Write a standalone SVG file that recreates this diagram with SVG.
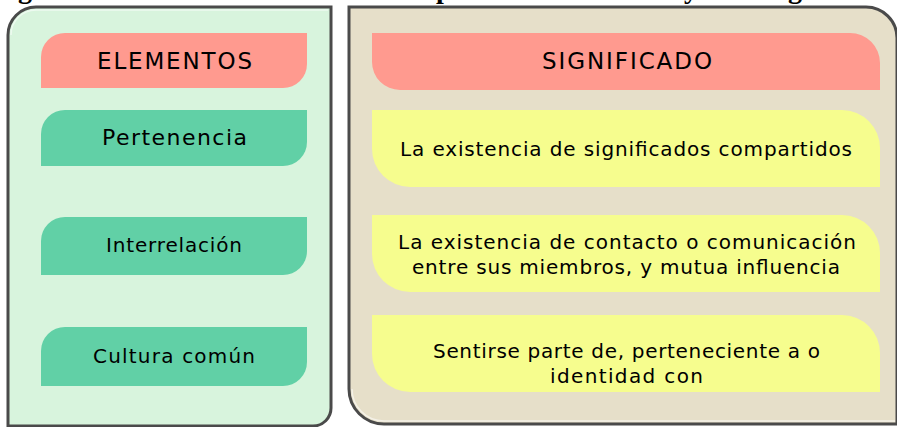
<svg xmlns="http://www.w3.org/2000/svg" width="897" height="427" viewBox="0 0 897 427">
<style>
  .panel{stroke:#4a4a4a;stroke-width:3}
  .hl{fill:none;stroke:#ffffff;stroke-opacity:0.55;stroke-width:1.5}
  .pink{fill:#ff9a8f}
  .green{fill:#61d0a6}
  .yellow{fill:#f6fd8e}
  .t{font-family:"DejaVu Sans","Noto Sans",sans-serif;fill:#000;text-anchor:middle}
  .ttl{font-family:"Liberation Serif","Times New Roman",serif;font-weight:bold;font-size:28px;fill:#000}
</style>
<rect width="897" height="427" fill="#ffffff"/>
<g id="title">
  <text class="ttl" x="18" y="-2">g</text>
  <text class="ttl" x="436" y="-2">p</text>
  <text class="ttl" x="684" y="-2">y</text>
  <text class="ttl" x="788" y="-2">g</text>
</g>
<g id="panel-left">
  <path class="panel" fill="#d8f4dd" d="M8,35 A28,28 0 0 1 36,7 H331 V408 A18,18 0 0 1 313,426 H8 Z"/>
  <path class="hl" d="M11,35 A25,25 0 0 1 36,10 H328"/>
</g>
<g id="panel-right">
  <path class="panel" fill="#e6dfc9" d="M349,7 H866 A31,31 0 0 1 897,38 V424 H384 A35,35 0 0 1 349,389 Z"/>
  <path class="hl" d="M352,389 A32,32 0 0 0 384,421 H895"/>
</g>
<g id="elementos">
  <path class="pink" d="M41,88 V57 A24,24 0 0 1 65,33 H307 V64 A24,24 0 0 1 283,88 Z"/>
  <text class="t" x="174.5" y="69" font-size="23" textLength="155" lengthAdjust="spacing">ELEMENTOS</text>
</g>
<g id="pertenencia">
  <path class="green" d="M41,166 V134 A24,24 0 0 1 65,110 H307 V142 A24,24 0 0 1 283,166 Z"/>
  <text class="t" x="174.5" y="145" font-size="22" textLength="145" lengthAdjust="spacing">Pertenencia</text>
</g>
<g id="interrelacion">
  <path class="green" d="M41,275 V241 A24,24 0 0 1 65,217 H307 V251 A24,24 0 0 1 283,275 Z"/>
  <text class="t" x="174" y="252" font-size="20" textLength="136" lengthAdjust="spacing">Interrelación</text>
</g>
<g id="cultura">
  <path class="green" d="M41,386 V351 A24,24 0 0 1 65,327 H307 V362 A24,24 0 0 1 283,386 Z"/>
  <text class="t" x="174" y="363" font-size="20" textLength="162" lengthAdjust="spacing">Cultura común</text>
</g>
<g id="significado">
  <path class="pink" d="M372,90 V33 H850 A30,30 0 0 1 880,63 V90 H400 A28,28 0 0 1 372,62 Z" />
  <text class="t" x="627" y="69" font-size="23" textLength="170" lengthAdjust="spacing">SIGNIFICADO</text>
</g>
<g id="sig1">
  <path class="yellow" d="M372,110 H842 A38,38 0 0 1 880,148 V187 H410 A38,38 0 0 1 372,149 Z"/>
  <text class="t" x="626" y="156" font-size="20" textLength="452" lengthAdjust="spacing">La existencia de significados compartidos</text>
</g>
<g id="sig2">
  <path class="yellow" d="M372,215 H842 A38,38 0 0 1 880,253 V292 H410 A38,38 0 0 1 372,254 Z"/>
  <text class="t" x="627" y="249" font-size="20" textLength="458" lengthAdjust="spacing">La existencia de contacto o comunicación</text>
  <text class="t" x="626" y="274" font-size="20" textLength="428" lengthAdjust="spacing">entre sus miembros, y mutua influencia</text>
</g>
<g id="sig3">
  <path class="yellow" d="M372,315 H842 A38,38 0 0 1 880,353 V392 H410 A38,38 0 0 1 372,354 Z"/>
  <text class="t" x="626.5" y="358" font-size="20" textLength="387" lengthAdjust="spacing">Sentirse parte de, perteneciente a o</text>
  <text class="t" x="626.5" y="383" font-size="20" textLength="153" lengthAdjust="spacing">identidad con</text>
</g>
<g id="connectors"></g>
</svg>
